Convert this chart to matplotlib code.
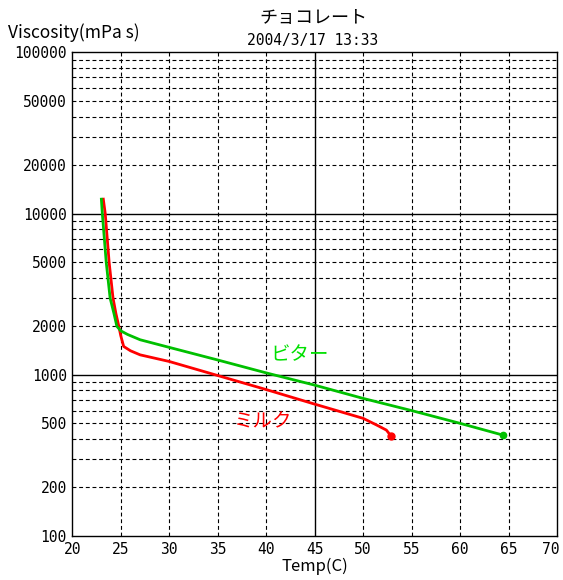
import matplotlib
matplotlib.use("Agg")
import matplotlib.pyplot as plt
from matplotlib.transforms import ScaledTranslation

plt.rcParams['font.family'] = ['Noto Sans CJK JP', 'DejaVu Sans']

# Bitter (ビター) chocolate
bitter_temp = [23.0, 23.1, 23.5, 23.9, 24.3, 24.6, 25.0, 25.7, 27.0, 30.0,
               35.0, 40.0, 45.0, 50.0, 55.0, 60.0, 64.4]
bitter_visc = [12300, 10000, 5000, 3000, 2400, 2000, 1875, 1780, 1650, 1480,
               1236, 1028, 863, 714, 600, 500, 423]

# Milk (ミルク) chocolate
milk_temp = [23.2, 23.4, 23.8, 24.2, 24.5, 24.8, 25.0, 25.3, 26.0, 27.0, 30.0,
             35.0, 40.0, 45.0, 50.0, 51.4, 52.4, 52.9]
milk_visc = [12300, 10000, 5000, 3000, 2400, 2000, 1750, 1500, 1410, 1330, 1210,
             990, 810, 658, 537, 488, 454, 416]

x_ticks = [20, 25, 30, 35, 40, 45, 50, 55, 60, 65, 70]
y_ticks = [100, 200, 500, 1000, 2000, 5000, 10000, 20000, 50000, 100000]

fig = plt.figure(figsize=(5.63, 5.8), dpi=100)
ax = fig.add_axes([0.1284, 0.0759, 0.9893 - 0.1284, 0.9095 - 0.0759])
ax.set_yscale('log')
ax.set_xlim(20, 70)
ax.set_ylim(100, 100000)

# grid: dashed minor lines, solid at 45 C and decades
for xv in x_ticks[1:-1]:
    if xv == 45:
        ax.axvline(xv, color='black', lw=1.0, zorder=1)
    else:
        ax.axvline(xv, color='black', lw=0.8, ls=(0, (3.5, 2.5)), zorder=1)
for dec in [100, 1000, 10000]:
    for m in range(2, 10):
        ax.axhline(dec * m, color='black', lw=0.8, ls=(0, (3.5, 2.5)), zorder=1)
for dec in [1000, 10000]:
    ax.axhline(dec, color='black', lw=1.0, zorder=1)

ax.plot(milk_temp, milk_visc, color='#ff0000', lw=2.0, zorder=3)
ax.plot(milk_temp[-1:], milk_visc[-1:], 'o', color='#ff0000', ms=5, zorder=3)
ax.plot(bitter_temp, bitter_visc, color='#00c000', lw=2.0, zorder=4)
ax.plot(bitter_temp[-1:], bitter_visc[-1:], 'o', color='#00c000', ms=4.5, zorder=4)

ax.text(43.5, 1325, 'ビター', color='#00e000', fontsize=14, ha='center', va='center')
ax.text(39.7, 511, 'ミルク', color='#ff0000', fontsize=14, ha='center', va='center')

ax.set_xticks(x_ticks)
ax.set_yticks(y_ticks)
ax.set_yticks([], minor=True)
ax.set_xticklabels([str(v) for v in x_ticks], family='DejaVu Sans Mono', fontsize=10.5)
ax.set_yticklabels([str(v) for v in y_ticks], family='DejaVu Sans Mono', fontsize=10.5)
ax.tick_params(length=0, pad=4)
# keep the last x label inside the figure
last = ax.get_xticklabels()[-1]
last.set_transform(last.get_transform() + ScaledTranslation(-6 / 100, 0, fig.dpi_scale_trans))
for s in ax.spines.values():
    s.set_linewidth(1.0)

ax.set_xlabel('Temp(C)', fontsize=12, labelpad=1)
fig.text(0.014, 0.943, 'Viscosity(mPa s)', fontsize=12.5, ha='left', va='center')
fig.text(0.556, 0.969, 'チョコレート', fontsize=13, ha='center', va='center')
fig.text(0.556, 0.931, '2004/3/17 13:33', fontsize=10.5, ha='center', va='center',
         family='DejaVu Sans Mono')

fig.savefig('out.png', dpi=100)
